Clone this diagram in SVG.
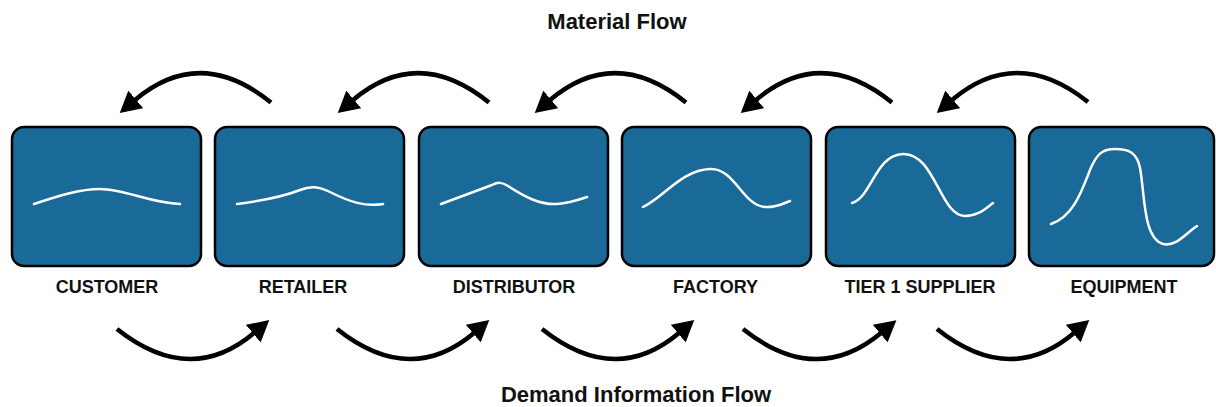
<svg xmlns="http://www.w3.org/2000/svg" width="1216" height="407" viewBox="0 0 1216 407">
<style>
.box{fill:#1a6a99;stroke:#000;stroke-width:2.5}
.wave{fill:none;stroke:#fff;stroke-width:2.5;stroke-linecap:round;stroke-linejoin:round}
.lbl{font-family:"Liberation Sans",Arial,sans-serif;font-weight:bold;font-size:18px;fill:#111;text-anchor:middle}
.ttl{font-family:"Liberation Sans",Arial,sans-serif;font-weight:bold;font-size:22px;fill:#111;text-anchor:middle}
.arr{fill:none;stroke:#000;stroke-width:4.5;marker-end:url(#ah)}
</style>
<defs>
<marker id="ah" viewBox="0 0 21 23" refX="1" refY="11.5" markerWidth="21" markerHeight="23" markerUnits="userSpaceOnUse" orient="auto">
<path d="M0,0 L21,11.5 L0,23 z" fill="#000"/>
</marker>
</defs>
<rect width="1216" height="407" fill="#fff"/>
<text class="ttl" x="617" y="29">Material Flow</text>
<text class="ttl" x="636" y="402">Demand Information Flow</text>
<g id="customer">
<rect class="box" x="12" y="127" width="189" height="139" rx="12"/>
<path class="wave" d="M34,204 C58,196 80,189 100,189 C125,189 150,203 180,204"/>
<text class="lbl" x="107" y="293">CUSTOMER</text>
</g>
<g id="retailer">
<rect class="box" x="215" y="127" width="189" height="139" rx="12"/>
<path class="wave" d="M237,204 C260,201 285,196 300,190 C310,186 318,186 330,192 C350,202 365,207 383,204"/>
<text class="lbl" x="303" y="293">RETAILER</text>
</g>
<g id="distributor">
<rect class="box" x="419" y="127" width="189" height="139" rx="12"/>
<path class="wave" d="M441,204 L492,185 C498,182 502,182 508,186 C525,197 540,205 557,204 C570,203 578,200 587,197"/>
<text class="lbl" x="514" y="293">DISTRIBUTOR</text>
</g>
<g id="factory">
<rect class="box" x="622" y="127" width="189" height="139" rx="12"/>
<path class="wave" d="M643,207 C665,196 682,170 710,169 C735,168 742,205 765,207 C775,208 782,204 790,201"/>
<text class="lbl" x="715.5" y="293">FACTORY</text>
</g>
<g id="tier1">
<rect class="box" x="826" y="127" width="189" height="139" rx="12"/>
<path class="wave" d="M852,203 C872,197 875,155 903,154 C935,153 940,216 965,216 C978,216 985,209 993,203"/>
<text class="lbl" x="920" y="293">TIER 1 SUPPLIER</text>
</g>
<g id="equipment">
<rect class="box" x="1029" y="127" width="185" height="139" rx="12"/>
<path class="wave" d="M1051,224 C1074,216 1082,190 1090,170 C1097,153 1103,149 1115,149 C1128,149 1137,152 1140,168 C1145,195 1143,238 1163,244 C1176,247 1186,233 1197,226"/>
<text class="lbl" x="1124" y="293">EQUIPMENT</text>
</g>
<g id="connectors">
<path class="arr" d="M271,102.5 Q200,45 135,100"/>
<path class="arr" d="M489,102.5 Q418,45 353,100"/>
<path class="arr" d="M686,102.5 Q615,45 550,100"/>
<path class="arr" d="M892,102.5 Q821,45 756,100"/>
<path class="arr" d="M1088,102 Q1017,45 952,100"/>
<path class="arr" d="M117,329 Q190,387 254,333"/>
<path class="arr" d="M337,329 Q410,387 474,333"/>
<path class="arr" d="M542,329 Q615,387 679,333"/>
<path class="arr" d="M743,329 Q816,387 881,333"/>
<path class="arr" d="M937,329 Q1010,387 1074,333"/>
</g>
</svg>
